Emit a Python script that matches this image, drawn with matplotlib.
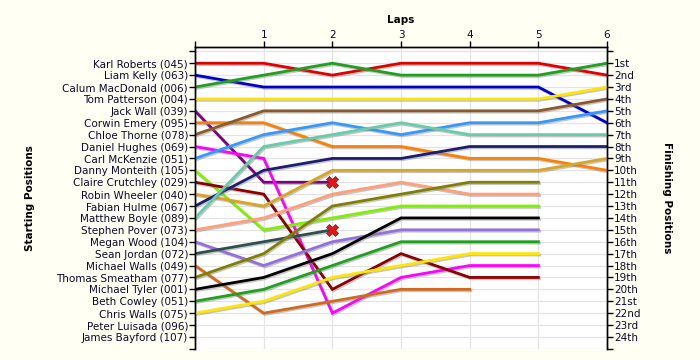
import matplotlib
matplotlib.use('Agg')
import matplotlib.pyplot as plt
import matplotlib.patheffects as pe

# Starting grid (top to bottom)
drivers = ['Karl Roberts (045)', 'Liam Kelly (063)', 'Calum MacDonald (006)', 'Tom Patterson (004)',
           'Jack Wall (039)', 'Corwin Emery (095)', 'Chloe Thorne (078)', 'Daniel Hughes (069)',
           'Carl McKenzie (051)', 'Danny Monteith (105)', 'Claire Crutchley (029)', 'Robin Wheeler (040)',
           'Fabian Hulme (067)', 'Matthew Boyle (089)', 'Stephen Pover (073)', 'Megan Wood (104)',
           'Sean Jordan (072)', 'Michael Walls (049)', 'Thomas Smeatham (077)', 'Michael Tyler (001)',
           'Beth Cowley (051)', 'Chris Walls (075)', 'Peter Luisada (096)', 'James Bayford (107)']

# position at each lap (index = lap number), shorter lists = dropped out
positions = [
    [1, 1, 2, 1, 1, 1, 2],
    [2, 3, 3, 3, 3, 3, 6],
    [3, 2, 1, 2, 2, 2, 1],
    [4, 4, 4, 4, 4, 4, 3],
    [5, 11, 11],
    [6, 6, 8, 8, 9, 9, 10],
    [7, 5, 5, 5, 5, 5, 4],
    [8, 9, 22, 19, 18, 18],
    [9, 7, 6, 7, 6, 6, 5],
    [10, 15, 14, 13, 13, 13],
    [11, 12, 20, 17, 19, 19],
    [12, 13, 10, 10, 10, 10, 9],
    [13, 10, 9, 9, 8, 8, 8],
    [14, 8, 7, 6, 7, 7, 7],
    [15, 14, 12, 11, 12, 12],
    [16, 18, 16, 15, 15, 15],
    [17, 16, 15],
    [18, 22, 21, 20, 20],
    [19, 17, 13, 12, 11, 11],
    [20, 19, 17, 14, 14, 14],
    [21, 20, 18, 16, 16, 16],
    [22, 21, 19, 18, 17, 17],
    [],
    [],
]
retired = ['Jack Wall (039)', 'Sean Jordan (072)']

colors = ['#E00000', '#0000CC', '#1FA01F', '#FFE600', '#800080', '#FF8000', '#8B5A2B', '#FF00FF',
          '#3399FF', '#80F000', '#8B0000', '#DAA520', '#1E1E70', '#66CDAA', '#FFA07A', '#9370DB',
          '#2F4F4F', '#D2691E', '#808000', '#000000', '#1FA01F', '#FFE600', '#999999', '#999999']

finish_labels = ['1st', '2nd', '3rd'] + [f'{i}th' for i in range(4, 21)] + ['21st', '22nd', '23rd', '24th']
n_laps = 6

bg = '#FFFFF4'
txt = '#0A0A28'
fig = plt.figure(figsize=(7, 3.6), dpi=100, facecolor=bg)
ax = fig.add_axes([0.2786, 0.031, 0.5886, 0.838])
ax.set_facecolor('white')

shadow = [pe.SimpleLineShadow(offset=(0.8, -1.0), shadow_color='#808080', alpha=0.45), pe.Normal()]
for name, pos, c in zip(drivers, positions, colors):
    if not pos:
        continue
    ax.plot(range(len(pos)), pos, color=c, lw=2, solid_joinstyle='miter', path_effects=shadow, zorder=3)
    if name in retired:
        ax.plot(len(pos) - 1, pos[-1], marker='X', ms=8, color='#EE1111', mec='#444444', mew=0.6, zorder=5)

ax.set_xlim(0, n_laps)
ax.set_ylim(25, -0.35)
ax.xaxis.tick_top()
ax.xaxis.set_label_position('top')
ax.set_xticks(range(n_laps + 1))
ax.set_xticklabels([''] + [str(i) for i in range(1, n_laps + 1)], fontsize=7.5, color=txt)
ax.set_xlabel('Laps', fontsize=7.5, fontweight='bold', labelpad=5.5)

ax.set_yticks(range(0, 26))
ax.set_yticklabels([''] + drivers + [''], fontsize=7.5, color=txt)
ax.set_ylabel('Starting Positions', fontsize=7.5, fontweight='bold', labelpad=15)

ax2 = ax.twinx()
ax2.set_ylim(ax.get_ylim())
ax2.set_yticks(range(0, 26))
ax2.set_yticklabels([''] + finish_labels + [''], fontsize=7.5, color=txt)
ax2.set_ylabel('Finishing Positions', fontsize=7.5, fontweight='bold', rotation=270, labelpad=23)

for a in (ax, ax2):
    a.tick_params(axis='both', length=4, width=1, pad=1, colors='black', labelcolor=txt)
    a.spines['bottom'].set_visible(False)
    for s in ('left', 'right', 'top'):
        a.spines[s].set_color('black')
        a.spines[s].set_linewidth(1)
ax.grid(True, color='#E4E4E4', lw=0.9, zorder=0)
ax.set_axisbelow(True)

fig.savefig('out.png', dpi=100, facecolor=bg)
